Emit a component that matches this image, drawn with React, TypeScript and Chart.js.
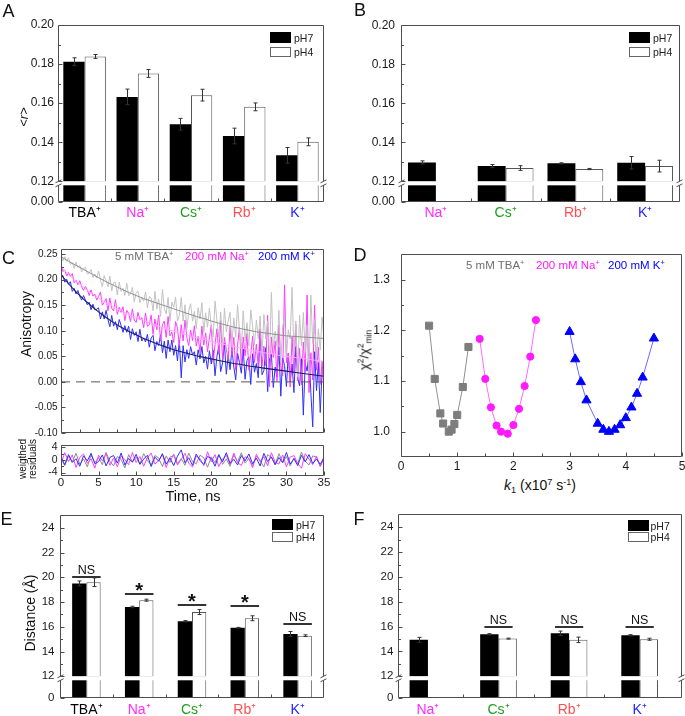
import React, { useEffect, useRef } from 'react';
import { Chart, registerables } from 'chart.js';

Chart.register(...registerables);

/* ============================ DATA ============================ */
const FONT = '"Liberation Sans", Arial, Helvetica, sans-serif';

// Panel A : <r> by cation (pH7 / pH4)
const A_CATS = ['TBA⁺', 'Na⁺', 'Cs⁺', 'Rb⁺', 'K⁺'];
const A_CAT_COLORS = ['#000000', '#ff2bff', '#1f9e1f', '#ff5050', '#2424ff'];
const A_PH7 = [0.1812, 0.1632, 0.1492, 0.1432, 0.1333];
const A_PH7_ERR = [0.002, 0.004, 0.003, 0.004, 0.004];
const A_PH4 = [0.1839, 0.1752, 0.1641, 0.1581, 0.1402];
const A_PH4_ERR = [0.001, 0.002, 0.003, 0.002, 0.002];

// Panel B : <r> for the second construct
const B_CATS = ['Na⁺', 'Cs⁺', 'Rb⁺', 'K⁺'];
const B_CAT_COLORS = ['#ff2bff', '#1f9e1f', '#ff5050', '#2424ff'];
const B_PH7 = [0.1297, 0.1278, 0.1292, 0.1295];
const B_PH7_ERR = [0.0008, 0.0008, 0.0003, 0.0032];
const B_PH4 = [null, 0.1268, 0.1263, 0.1278];
const B_PH4_ERR = [0, 0.0012, 0.0003, 0.003];

const R_TICKS = [0.12, 0.14, 0.16, 0.18, 0.2];
const R_LOW_TICKS = [0];
const R_BREAK = 0.12;
const R_MAX = 0.2;

// Panel E : distance (Å)
const E_CATS = ['TBA⁺', 'Na⁺', 'Cs⁺', 'Rb⁺', 'K⁺'];
const E_CAT_COLORS = ['#000000', '#ff2bff', '#1f9e1f', '#ff5050', '#2424ff'];
const E_PH7 = [19.5, 17.6, 16.45, 15.92, 15.42];
const E_PH7_ERR = [0.2, 0.06, 0.05, 0.03, 0.2];
const E_PH4 = [19.6, 18.15, 17.19, 16.69, 15.28];
const E_PH4_ERR = [0.35, 0.08, 0.2, 0.2, 0.07];
const E_SIG = ['NS', '*', '*', '*', 'NS'];
const E_SIG_Y = [20.05, 18.64, 17.76, 17.68, 16.19];

// Panel F : distance (Å), second construct
const F_CATS = ['Na⁺', 'Cs⁺', 'Rb⁺', 'K⁺'];
const F_CAT_COLORS = ['#ff2bff', '#1f9e1f', '#ff5050', '#2424ff'];
const F_PH7 = [14.93, 15.38, 15.46, 15.3];
const F_PH7_ERR = [0.2, 0.05, 0.18, 0.05];
const F_PH4 = [null, 15.03, 14.93, 14.98];
const F_PH4_ERR = [0, 0.04, 0.22, 0.08];
const F_SIG = [null, 'NS', 'NS', 'NS'];
const F_SIG_Y = [null, 15.98, 15.98, 15.98];

const DIST_TICKS = [12, 14, 16, 18, 20, 22, 24];
const DIST_LOW_TICKS = [0];
const DIST_BREAK = 12;
const DIST_MAX = 25;

// Panel C : anisotropy decays (sampled every 0.25 ns, 0..35 ns)
const C_T_STEP = 0.25;
const C_T_MAX = 35;
const C_TIMES = Array.from({ length: C_T_MAX / C_T_STEP + 1 }, (_, i) => i * C_T_STEP);
const TR_TBA = [
  0.247, 0.237, 0.245, 0.236, 0.243, 0.230, 0.233, 0.222, 0.234, 0.224,
  0.228, 0.215, 0.222, 0.224, 0.211, 0.213, 0.220, 0.204, 0.211, 0.203,
  0.217, 0.199, 0.186, 0.208, 0.198, 0.186, 0.207, 0.178, 0.194, 0.195,
  0.170, 0.195, 0.177, 0.183, 0.169, 0.193, 0.169, 0.172, 0.185, 0.156,
  0.175, 0.177, 0.155, 0.166, 0.158, 0.176, 0.145, 0.167, 0.164, 0.139,
  0.177, 0.142, 0.162, 0.128, 0.181, 0.143, 0.133, 0.165, 0.119, 0.156,
  0.146, 0.166, 0.119, 0.130, 0.165, 0.119, 0.151, 0.104, 0.139, 0.153,
  0.119, 0.138, 0.104, 0.145, 0.123, 0.155, 0.097, 0.135, 0.107, 0.144,
  0.110, 0.087, 0.158, 0.121, 0.088, 0.137, 0.068, 0.144, 0.098, 0.119,
  0.136, 0.072, 0.125, 0.088, 0.151, 0.100, 0.064, 0.139, 0.080, 0.116,
  0.070, 0.141, 0.108, 0.072, 0.121, 0.084, 0.129, 0.052, 0.132, 0.084,
  0.119, 0.047, 0.175, 0.064, 0.099, 0.069, 0.140, 0.038, 0.109, 0.127,
  0.048, 0.102, 0.084, 0.185, 0.053, 0.119, 0.010, 0.130, 0.070, 0.136,
  0.058, 0.111, 0.015, 0.170, 0.075, 0.122, 0.038, 0.104, 0.062, 0.127,
  0.085,
];
const TR_NA = [
  0.231, 0.216, 0.219, 0.207, 0.214, 0.206, 0.212, 0.194, 0.199, 0.190,
  0.198, 0.186, 0.179, 0.187, 0.180, 0.169, 0.180, 0.168, 0.172, 0.160,
  0.167, 0.176, 0.150, 0.156, 0.163, 0.139, 0.164, 0.144, 0.139, 0.161,
  0.132, 0.146, 0.136, 0.147, 0.120, 0.140, 0.134, 0.118, 0.143, 0.121,
  0.116, 0.136, 0.121, 0.126, 0.106, 0.135, 0.109, 0.112, 0.131, 0.093,
  0.123, 0.102, 0.131, 0.080, 0.112, 0.119, 0.087, 0.128, 0.090, 0.098,
  0.077, 0.118, 0.105, 0.071, 0.112, 0.080, 0.121, 0.086, 0.071, 0.101,
  0.081, 0.110, 0.070, 0.089, 0.057, 0.109, 0.072, 0.096, 0.059, 0.086,
  0.111, 0.038, 0.073, 0.104, 0.054, 0.120, 0.043, 0.087, 0.063, 0.044,
  0.107, 0.052, 0.087, 0.023, 0.072, 0.107, 0.030, 0.088, 0.051, 0.095,
  0.023, 0.053, 0.089, 0.038, 0.074, 0.028, 0.104, 0.031, 0.070, 0.031,
  0.130, -0.010, 0.088, 0.048, 0.080, 0.001, 0.111, 0.032, 0.012, 0.190,
  0.037, 0.056, -0.010, 0.088, 0.016, 0.113, 0.002, 0.066, -0.006, 0.078,
  0.019, 0.170, -0.021, 0.057, 0.004, 0.150, 0.023, 0.068, -0.005, 0.041,
  -0.020,
];
const TR_K = [
  0.207, 0.208, 0.195, 0.201, 0.191, 0.196, 0.177, 0.183, 0.172, 0.179,
  0.167, 0.160, 0.169, 0.160, 0.151, 0.156, 0.141, 0.152, 0.141, 0.142,
  0.145, 0.123, 0.137, 0.123, 0.140, 0.122, 0.108, 0.130, 0.109, 0.118,
  0.102, 0.122, 0.110, 0.097, 0.110, 0.097, 0.109, 0.083, 0.104, 0.091,
  0.098, 0.079, 0.103, 0.080, 0.086, 0.078, 0.093, 0.068, 0.086, 0.091,
  0.061, 0.079, 0.071, 0.092, 0.057, 0.080, 0.046, 0.082, 0.059, 0.082,
  0.052, 0.071, 0.041, 0.082, 0.008, 0.071, 0.039, 0.063, 0.046, 0.069,
  0.053, 0.059, 0.033, 0.063, 0.045, 0.069, 0.037, 0.050, 0.025, 0.061,
  0.035, 0.062, 0.012, 0.050, 0.070, 0.020, 0.037, 0.075, 0.015, 0.052,
  0.024, 0.065, 0.029, 0.004, 0.056, 0.038, 0.017, 0.065, 0.005, 0.042,
  0.049, -0.005, 0.055, 0.019, 0.036, 0.008, 0.100, 0.014, 0.022, 0.067,
  -0.019, 0.046, 0.055, -0.011, 0.029, 0.009, 0.068, -0.028, 0.047, 0.032,
  -0.009, 0.056, 0.000, 0.035, -0.021, 0.069, 0.008, -0.008, 0.047, -0.065,
  0.036, 0.021, 0.055, -0.021, -0.088, 0.059, -0.017, 0.038, -0.060, 0.022,
  0.046,
];
// fitted curves (every 1 ns)
const FIT_T = Array.from({ length: 36 }, (_, i) => i);
const FIT_TBA = [0.245, 0.236, 0.228, 0.220, 0.212, 0.204, 0.196, 0.189, 0.182, 0.175, 0.169, 0.163, 0.158, 0.153, 0.148, 0.143, 0.138, 0.133, 0.128, 0.124, 0.119, 0.115, 0.111, 0.107, 0.104, 0.101, 0.098, 0.096, 0.094, 0.092, 0.090, 0.089, 0.088, 0.087, 0.086, 0.085];
const FIT_NA = [0.225, 0.210, 0.197, 0.185, 0.174, 0.164, 0.155, 0.147, 0.139, 0.132, 0.126, 0.120, 0.114, 0.109, 0.104, 0.099, 0.095, 0.091, 0.087, 0.083, 0.079, 0.076, 0.072, 0.069, 0.066, 0.063, 0.060, 0.057, 0.055, 0.052, 0.050, 0.048, 0.046, 0.044, 0.042, 0.040];
const FIT_K = [0.210, 0.192, 0.176, 0.162, 0.149, 0.137, 0.126, 0.116, 0.107, 0.099, 0.092, 0.085, 0.079, 0.073, 0.068, 0.063, 0.059, 0.055, 0.051, 0.048, 0.045, 0.042, 0.039, 0.036, 0.034, 0.031, 0.029, 0.027, 0.025, 0.023, 0.021, 0.019, 0.017, 0.015, 0.013, 0.011];
const C_Y_TICKS = [-0.1, -0.05, 0, 0.05, 0.1, 0.15, 0.2, 0.25];
const C_Y_MIN = -0.1;
const C_Y_MAX = 0.26;
const C_X_TICKS = [0, 5, 10, 15, 20, 25, 30, 35];

// weighted residuals (every 0.5 ns)
const RES_T_STEP = 0.5;
const RES_TIMES = Array.from({ length: C_T_MAX / RES_T_STEP + 1 }, (_, i) => i * RES_T_STEP);
const RES_TBA = [
  0.5, -1.8, 1.2, -0.6, 2.1, -1.4, 0.3, -2.2, 1.6, -0.9,
  0.8, -1.5, 2.4, -0.4, -1.9, 1.1, 0.2, -2.5, 1.7, -0.7,
  0.9, -1.3, 2.0, -0.2, -1.6, 1.4, 0.6, -2.1, 1.3, -0.8,
  1.9, -1.1, 0.4, -1.7, 2.2, -0.5, -1.2, 1.5, 0.7, -2.3,
  1.0, -0.9, 1.8, -1.4, 0.3, -2.0, 1.6, -0.6, 2.3, -1.0,
  0.5, -1.8, 1.2, -0.3, -2.2, 1.7, 0.8, -1.5, 2.0, -0.7,
  1.1, -1.9, 0.6, -1.2, 2.5, -0.4, -1.6, 1.3, 0.9, -2.1,
  0.4,
];
const RES_NA = [
  -1.2, 2.3, -0.5, 1.6, -2.4, 0.8, 1.9, -1.1, 0.4, -2.6,
  1.5, -0.3, 2.0, -1.7, 0.6, -2.2, 1.3, 0.1, -1.5, 2.4,
  -0.8, 1.1, -2.0, 0.7, 2.2, -1.3, -0.2, 1.8, -2.4, 0.9,
  1.4, -1.6, 0.2, 2.1, -1.0, -2.3, 1.2, 0.5, -1.8, 2.6,
  -0.6, 1.7, -2.1, 0.3, 1.5, -1.4, 2.2, -0.9, -1.7, 1.0,
  0.6, -2.5, 1.8, -0.4, 1.1, -1.9, 2.3, -0.7, -1.3, 1.6,
  -2.2, 0.9, 1.4, -1.1, -2.6, 2.0, 0.3, -1.5, 1.2, -2.0,
  0.7,
];
const RES_K = [
  0.9, -1.5, 1.7, -0.8, 0.4, -2.0, 1.3, -0.3, 2.1, -1.2,
  -0.5, 1.6, -1.9, 0.8, 1.4, -1.0, 2.2, -1.6, 0.5, -0.7,
  1.8, -1.4, 0.3, 1.5, -2.1, 0.9, -0.4, 2.0, -1.3, 0.6,
  -1.8, 1.2, 3.2, -0.9, 0.7, -1.7, 1.9, -0.2, -1.4, 1.1,
  0.5, -2.0, 1.6, -0.6, 2.3, -1.1, 0.2, -1.6, 1.4, -0.3,
  1.9, -1.2, 0.6, -1.9, 2.1, -0.5, 1.0, -1.5, 0.8, -0.9,
  2.4, -1.3, 0.4, -1.8, 1.5, -0.6, 1.7, -1.1, 0.3, -1.4,
  0.8,
];
const RES_TICKS = [-4, 0, 4];
const RES_MIN = -5;
const RES_MAX = 4.5;

// Panel D : chi2 / chi2min vs k1
const D_TBA_K1 = [0.5, 0.6, 0.7, 0.75, 0.85, 0.9, 0.95, 1.0, 1.1, 1.2];
const D_TBA_CHI = [1.209, 1.104, 1.036, 1.016, 1.0, 1.004, 1.015, 1.033, 1.088, 1.167];
const D_NA_K1 = [1.4, 1.5, 1.6, 1.7, 1.78, 1.9, 2.0, 2.1, 2.2, 2.3, 2.4];
const D_NA_CHI = [1.183, 1.104, 1.048, 1.012, 1.0, 0.996, 1.013, 1.045, 1.09, 1.148, 1.22];
const D_K_K1 = [3.0, 3.1, 3.2, 3.3, 3.5, 3.6, 3.7, 3.8, 3.9, 4.0, 4.1, 4.2, 4.3, 4.5];
const D_K_CHI = [1.197, 1.143, 1.098, 1.062, 1.016, 1.004, 1.0, 1.004, 1.013, 1.027, 1.048, 1.075, 1.107, 1.184];
const D_X_TICKS = [0, 1, 2, 3, 4, 5];
const D_Y_TICKS = [1.0, 1.1, 1.2, 1.3];

/* ============================ STYLE / LAYOUT ============================ */
const FRAME_COLOR = '#4d4d4d';
const ERR_COLOR = '#333333';
const TICK_COLOR = '#1a1a1a';

type Rect = { l: number; t: number; r: number; b: number };

const A_CANVAS: Rect = { l: 0, t: 12, r: 338, b: 230 };
const A_PLOT: Rect = { l: 58, t: 25, r: 324, b: 202 };
const B_CANVAS: Rect = { l: 342, t: 12, r: 685, b: 230 };
const B_PLOT: Rect = { l: 401, t: 25, r: 680, b: 202 };
const C_CANVAS: Rect = { l: 0, t: 238, r: 338, b: 448 };
const C_PLOT: Rect = { l: 61, t: 249, r: 324, b: 433 };
const CR_CANVAS: Rect = { l: 0, t: 436, r: 338, b: 496 };
const CR_PLOT: Rect = { l: 61, t: 443.3, r: 324, b: 475.7 };
const D_CANVAS: Rect = { l: 342, t: 236, r: 695, b: 476 };
const D_PLOT: Rect = { l: 401, t: 247.3, r: 682, b: 457 };
const E_CANVAS: Rect = { l: 0, t: 503, r: 338, b: 716 };
const E_PLOT: Rect = { l: 60, t: 513, r: 324, b: 698 };
const F_CANVAS: Rect = { l: 342, t: 503, r: 685, b: 716 };
const F_PLOT: Rect = { l: 398.3, t: 513, r: 682, b: 698 };

function geom(c: Rect, p: Rect) {
  return { padTop: p.t - c.t, padRight: c.r - p.r, yW: p.l - c.l, xH: c.b - p.b };
}

function baseOptions(g: any) {
  return {
    responsive: false,
    maintainAspectRatio: false,
    animation: false,
    events: [],
    layout: { padding: { left: 0, top: g.padTop, right: g.padRight, bottom: 0 } },
  };
}

/* ============================ PLUGIN (frame, ticks, error bars, break) ============================ */
const decorPlugin: any = {
  id: 'decor',
  afterDatasetsDraw(chart: any) {
    const ctx = chart.ctx;
    chart.data.datasets.forEach((ds: any, di: number) => {
      const errs = ds.errors;
      if (!errs) return;
      const meta = chart.getDatasetMeta(di);
      const ys = chart.scales[meta.yAxisID];
      meta.data.forEach((el: any, j: number) => {
        const pt = ds.data[j];
        const v = pt ? pt.y : null;
        const e = errs[j];
        if (v == null || !e) return;
        const x = Math.round(el.x) + 0.5;
        const y1 = ys.getPixelForValue(v + e);
        const y2 = ys.getPixelForValue(v - e);
        ctx.save();
        ctx.strokeStyle = ERR_COLOR;
        ctx.lineWidth = 1;
        ctx.beginPath();
        ctx.moveTo(x, y1); ctx.lineTo(x, y2);
        ctx.moveTo(x - 2, y1); ctx.lineTo(x + 2, y1);
        ctx.moveTo(x - 2, y2); ctx.lineTo(x + 2, y2);
        ctx.stroke();
        ctx.restore();
      });
    });
  },
  afterDraw(chart: any, _args: any, o: any) {
    const ctx = chart.ctx;
    const a = chart.chartArea;
    const L = Math.floor(a.left) + 0.5;
    const R = Math.ceil(a.right) - 0.5;
    const T = Math.floor(a.top) + 0.5;
    const B = Math.ceil(a.bottom) - 0.5;
    ctx.save();
    let g0: number | null = null;
    let g1: number | null = null;
    if (o.breakScale) {
      const up = chart.scales[o.breakScale];
      g0 = up.bottom;
      g1 = up.bottom + (o.gap || 4);
      ctx.fillStyle = '#ffffff';
      ctx.fillRect(L - 2, g0, R - L + 4, g1 - g0);
    }
    ctx.strokeStyle = FRAME_COLOR;
    ctx.lineWidth = 1;
    ctx.beginPath();
    ctx.moveTo(L, T); ctx.lineTo(R, T);
    ctx.moveTo(L, B); ctx.lineTo(R, B);
    if (g0 != null && g1 != null) {
      ctx.moveTo(L, T); ctx.lineTo(L, g0); ctx.moveTo(L, g1); ctx.lineTo(L, B);
      ctx.moveTo(R, T); ctx.lineTo(R, g0); ctx.moveTo(R, g1); ctx.lineTo(R, B);
    } else {
      ctx.moveTo(L, T); ctx.lineTo(L, B);
      ctx.moveTo(R, T); ctx.lineTo(R, B);
    }
    (o.yScales || []).forEach((id: string) => {
      const s = chart.scales[id];
      const vals = s.ticks.map((t: any) => t.value);
      vals.forEach((v: number) => {
        const p = Math.round(s.getPixelForValue(v)) + 0.5;
        ctx.moveTo(L, p); ctx.lineTo(L + 4, p);
      });
      for (let i = 0; i < vals.length - 1; i++) {
        const p = Math.round(s.getPixelForValue((vals[i] + vals[i + 1]) / 2)) + 0.5;
        ctx.moveTo(L, p); ctx.lineTo(L + 2.5, p);
      }
    });
    const xs = chart.scales.x;
    const xv = xs.ticks.map((t: any) => t.value);
    if (o.xMajor) {
      xv.forEach((v: number) => {
        const p = Math.round(xs.getPixelForValue(v)) + 0.5;
        ctx.moveTo(p, B); ctx.lineTo(p, B - 4);
      });
    }
    if (o.xMinor) {
      for (let i = 0; i < xv.length - 1; i++) {
        const p = Math.round(xs.getPixelForValue((xv[i] + xv[i + 1]) / 2)) + 0.5;
        ctx.moveTo(p, B); ctx.lineTo(p, B - 3);
      }
    }
    ctx.stroke();
    if (g0 != null && g1 != null) {
      ctx.beginPath();
      [L, R].forEach((x) => [g0 as number, g1 as number].forEach((y) => {
        ctx.moveTo(x - 3, y + 1.5); ctx.lineTo(x + 3, y - 1.5);
      }));
      ctx.stroke();
    }
    if (o.sig) {
      const ys = chart.scales[o.sig.scale];
      o.sig.labels.forEach((lab: string | null, i: number) => {
        if (!lab) return;
        const y = Math.round(ys.getPixelForValue(o.sig.ys[i]));
        const x0 = xs.getPixelForValue(i - o.sig.half);
        const x1 = xs.getPixelForValue(i + o.sig.half);
        ctx.strokeStyle = '#333333';
        ctx.lineWidth = 2;
        ctx.beginPath(); ctx.moveTo(x0, y); ctx.lineTo(x1, y); ctx.stroke();
        ctx.fillStyle = '#111111';
        ctx.textAlign = 'center';
        ctx.textBaseline = 'alphabetic';
        if (lab === '*') {
          ctx.font = `bold 20px ${FONT}`;
          ctx.fillText(lab, (x0 + x1) / 2, y + 3);
        } else {
          ctx.font = `12.5px ${FONT}`;
          ctx.fillText(lab, (x0 + x1) / 2, y - 3.5);
        }
      });
    }
    ctx.restore();
  },
};

/* ============================ CHART BUILDERS ============================ */
function barConfig(p: any) {
  const g = geom(p.canvas, p.plot);
  const lowerH = p.plot.b - p.plot.t - p.upperPx;
  const pts = (vals: (number | null)[], clip: boolean) =>
    vals.map((v, i) => ({ x: i, y: v == null ? null : clip ? Math.min(v, p.brk) : v }));
  const common = { categoryPercentage: p.catPct, barPercentage: 1 };
  const yCommon = {
    type: 'linear',
    position: 'left',
    stack: 'broken',
    stacked: false,
    bounds: 'data',
    grid: { display: false, drawTicks: false },
    border: { display: false },
    afterFit: (s: any) => { s.width = g.yW; },
  };
  const yTickOpts = {
    autoSkip: false,
    padding: p.yPad,
    color: TICK_COLOR,
    font: { family: FONT, size: p.yFont },
    callback: (v: any) => Number(v).toFixed(p.dec),
  };
  return {
    type: 'bar',
    data: {
      datasets: [
        { label: 'pH7', data: pts(p.ph7, false), yAxisID: 'y', stack: 'pH7', base: p.brk, backgroundColor: '#000000', borderWidth: 0, errors: p.ph7Err, ...common },
        { label: 'pH4', data: pts(p.ph4, false), yAxisID: 'y', stack: 'pH4', base: p.brk, backgroundColor: '#ffffff', borderColor: '#555555', borderWidth: 1, errors: p.ph4Err, ...common },
        { label: 'pH7 (below break)', data: pts(p.ph7, true), yAxisID: 'yLow', stack: 'pH7', backgroundColor: '#000000', borderWidth: 0, ...common },
        { label: 'pH4 (below break)', data: pts(p.ph4, true), yAxisID: 'yLow', stack: 'pH4', backgroundColor: '#ffffff', borderColor: '#555555', borderWidth: 1, ...common },
      ],
    },
    options: {
      ...baseOptions(g),
      scales: {
        x: {
          type: 'linear',
          min: p.xMin,
          max: p.xMax,
          bounds: 'data',
          offset: false,
          grid: { display: false, drawTicks: false },
          border: { display: false },
          afterBuildTicks: (s: any) => { s.ticks = p.cats.map((_: any, i: number) => ({ value: i })); },
          afterFit: (s: any) => { s.height = g.xH; },
          ticks: {
            autoSkip: false,
            maxRotation: 0,
            padding: p.xPad,
            font: { family: FONT, size: 14 },
            color: (c: any) => p.catColors[c.index] || '#000000',
            callback: (v: any) => p.cats[v] ?? '',
          },
        },
        y: {
          ...yCommon,
          stackWeight: p.upperPx,
          weight: 2,
          min: p.brk,
          max: p.max,
          afterBuildTicks: (s: any) => { s.ticks = p.yTicks.map((v: number) => ({ value: v })); },
          ticks: yTickOpts,
        },
        yLow: {
          ...yCommon,
          stackWeight: lowerH,
          weight: 1,
          min: 0,
          max: p.brk,
          afterBuildTicks: (s: any) => { s.ticks = p.lowTicks.map((v: number) => ({ value: v })); },
          ticks: yTickOpts,
        },
      },
      plugins: {
        legend: { display: false },
        tooltip: { enabled: false },
        decor: { yScales: ['y', 'yLow'], breakScale: 'y', gap: 4, xMinor: true, sig: p.sig },
      },
    },
    plugins: [decorPlugin],
  };
}

function lineAxes(g: any, x: any, y: any) {
  return {
    x: {
      type: 'linear',
      min: x.min,
      max: x.max,
      bounds: 'data',
      grid: { display: false, drawTicks: false },
      border: { display: false },
      afterBuildTicks: (s: any) => { s.ticks = x.ticks.map((v: number) => ({ value: v })); },
      afterFit: (s: any) => { s.height = g.xH; },
      ticks: {
        display: x.show,
        autoSkip: false,
        maxRotation: 0,
        padding: x.pad,
        color: TICK_COLOR,
        font: { family: FONT, size: x.font },
        callback: (v: any) => String(v),
      },
    },
    y: {
      type: 'linear',
      min: y.min,
      max: y.max,
      bounds: 'data',
      grid: { display: false, drawTicks: false },
      border: { display: false },
      afterBuildTicks: (s: any) => { s.ticks = y.ticks.map((v: number) => ({ value: v })); },
      afterFit: (s: any) => { s.width = g.yW; },
      ticks: {
        autoSkip: false,
        padding: y.pad,
        color: TICK_COLOR,
        font: { family: FONT, size: y.font },
        callback: (v: any) => Number(v).toFixed(y.dec),
      },
    },
  };
}

function traceConfig() {
  const g = geom(C_CANVAS, C_PLOT);
  const ser = (ys: number[]) => C_TIMES.map((t, i) => ({ x: t, y: ys[i] }));
  const fit = (ys: number[]) => FIT_T.map((t, i) => ({ x: t, y: ys[i] }));
  const ln = { pointRadius: 0, tension: 0, fill: false };
  return {
    type: 'line',
    data: {
      datasets: [
        { label: 'zero', data: [{ x: 0, y: 0 }, { x: C_T_MAX, y: 0 }], borderColor: '#555555', borderDash: [9, 6], borderWidth: 1, order: 0, ...ln },
        { label: 'fit TBA', data: fit(FIT_TBA), borderColor: '#8f8f8f', borderWidth: 1, order: 1, ...ln },
        { label: 'fit Na', data: fit(FIT_NA), borderColor: '#ffa6ff', borderWidth: 1, order: 2, ...ln },
        { label: 'fit K', data: fit(FIT_K), borderColor: '#1a1a66', borderWidth: 1.1, order: 3, ...ln },
        { label: '5 mM TBA+', data: ser(TR_TBA), borderColor: '#c2c2c2', borderWidth: 1, order: 4, ...ln },
        { label: '200 mM Na+', data: ser(TR_NA), borderColor: '#ff3dff', borderWidth: 1, order: 5, ...ln },
        { label: '200 mM K+', data: ser(TR_K), borderColor: '#2e2eff', borderWidth: 1, order: 6, ...ln },
      ],
    },
    options: {
      ...baseOptions(g),
      scales: lineAxes(g,
        { min: 0, max: C_T_MAX, ticks: C_X_TICKS, show: false, pad: 0, font: 11 },
        { min: C_Y_MIN, max: C_Y_MAX, ticks: C_Y_TICKS, pad: 3.5, font: 10, dec: 2 }),
      plugins: {
        legend: { display: false },
        tooltip: { enabled: false },
        decor: { yScales: ['y'], xMajor: true, xMinor: true },
      },
    },
    plugins: [decorPlugin],
  };
}

function residConfig() {
  const g = geom(CR_CANVAS, CR_PLOT);
  const ser = (ys: number[]) => RES_TIMES.map((t, i) => ({ x: t, y: ys[i] }));
  const ln = { pointRadius: 0, tension: 0, fill: false, borderWidth: 1 };
  return {
    type: 'line',
    data: {
      datasets: [
        { label: 'K', data: ser(RES_K), borderColor: '#2f2fff', order: 0, ...ln },
        { label: 'Na', data: ser(RES_NA), borderColor: '#ff3dff', order: 1, ...ln },
        { label: 'TBA', data: ser(RES_TBA), borderColor: '#8c8c8c', order: 2, ...ln },
      ],
    },
    options: {
      ...baseOptions(g),
      scales: lineAxes(g,
        { min: 0, max: C_T_MAX, ticks: C_X_TICKS, show: true, pad: 0, font: 11.5 },
        { min: RES_MIN, max: RES_MAX, ticks: RES_TICKS, pad: 3.5, font: 10.5, dec: 0 }),
      plugins: {
        legend: { display: false },
        tooltip: { enabled: false },
        decor: { yScales: ['y'], xMajor: true, xMinor: true },
      },
    },
    plugins: [decorPlugin],
  };
}

function chiConfig() {
  const g = geom(D_CANVAS, D_PLOT);
  const pts = (xs: number[], ys: number[]) => xs.map((x, i) => ({ x, y: ys[i] }));
  const base = { showLine: true, tension: 0, borderWidth: 1, fill: false, pointBorderWidth: 1 };
  return {
    type: 'line',
    data: {
      datasets: [
        { label: '5 mM TBA+', data: pts(D_TBA_K1, D_TBA_CHI), borderColor: '#8f8f8f', pointStyle: 'rect', pointRadius: 5, pointBackgroundColor: '#7d7d7d', pointBorderColor: '#7d7d7d', ...base },
        { label: '200 mM Na+', data: pts(D_NA_K1, D_NA_CHI), borderColor: '#ff6bff', pointStyle: 'circle', pointRadius: 3.6, pointBackgroundColor: '#ff1aff', pointBorderColor: '#ff1aff', ...base },
        { label: '200 mM K+', data: pts(D_K_K1, D_K_CHI), borderColor: '#6b6bff', pointStyle: 'triangle', pointRadius: 5.3, pointBackgroundColor: '#0000ff', pointBorderColor: '#0000ff', ...base },
      ],
    },
    options: {
      ...baseOptions(g),
      scales: lineAxes(g,
        { min: 0, max: 5, ticks: D_X_TICKS, show: true, pad: 2.5, font: 12 },
        { min: 0.95, max: 1.35, ticks: D_Y_TICKS, pad: 11, font: 12, dec: 1 }),
      plugins: {
        legend: { display: false },
        tooltip: { enabled: false },
        decor: { yScales: ['y'], xMajor: true, xMinor: true },
      },
    },
    plugins: [decorPlugin],
  };
}

const PANEL_A = {
  canvas: A_CANVAS, plot: A_PLOT, cats: A_CATS, catColors: A_CAT_COLORS,
  ph7: A_PH7, ph7Err: A_PH7_ERR, ph4: A_PH4, ph4Err: A_PH4_ERR,
  yTicks: R_TICKS, lowTicks: R_LOW_TICKS, brk: R_BREAK, max: R_MAX, dec: 2,
  upperPx: 156.3, xMin: -0.5, xMax: 4.5, catPct: 0.8, yPad: 4, yFont: 12, xPad: 3,
};
const PANEL_B = {
  canvas: B_CANVAS, plot: B_PLOT, cats: B_CATS, catColors: B_CAT_COLORS,
  ph7: B_PH7, ph7Err: B_PH7_ERR, ph4: B_PH4, ph4Err: B_PH4_ERR,
  yTicks: R_TICKS, lowTicks: R_LOW_TICKS, brk: R_BREAK, max: R_MAX, dec: 2,
  upperPx: 156.3, xMin: -0.5, xMax: 3.5, catPct: 0.8, yPad: 6, yFont: 12, xPad: 3,
};
const PANEL_E = {
  canvas: E_CANVAS, plot: E_PLOT, cats: E_CATS, catColors: E_CAT_COLORS,
  ph7: E_PH7, ph7Err: E_PH7_ERR, ph4: E_PH4, ph4Err: E_PH4_ERR,
  yTicks: DIST_TICKS, lowTicks: DIST_LOW_TICKS, brk: DIST_BREAK, max: DIST_MAX, dec: 0,
  upperPx: 163, xMin: -0.5, xMax: 4.5, catPct: 0.54, yPad: 5.5, yFont: 11.5, xPad: 4,
  sig: { labels: E_SIG, ys: E_SIG_Y, half: 0.27, scale: 'y' },
};
const PANEL_F = {
  canvas: F_CANVAS, plot: F_PLOT, cats: F_CATS, catColors: F_CAT_COLORS,
  ph7: F_PH7, ph7Err: F_PH7_ERR, ph4: F_PH4, ph4Err: F_PH4_ERR,
  yTicks: DIST_TICKS, lowTicks: DIST_LOW_TICKS, brk: DIST_BREAK, max: DIST_MAX, dec: 0,
  upperPx: 163, xMin: -0.42, xMax: 3.6, catPct: 0.52, yPad: 5, yFont: 11.5, xPad: 4,
  sig: { labels: F_SIG, ys: F_SIG_Y, half: 0.2, scale: 'y' },
};

/* ============================ COMPONENTS ============================ */
function ChartCanvas({ box, make }: { box: Rect; make: () => any }) {
  const ref = useRef<HTMLCanvasElement>(null);
  useEffect(() => {
    const chart = new Chart(ref.current as HTMLCanvasElement, make());
    return () => chart.destroy();
  }, []);
  const w = box.r - box.l;
  const h = box.b - box.t;
  return (
    <canvas
      ref={ref}
      width={w}
      height={h}
      style={{ position: 'absolute', left: box.l, top: box.t, width: w, height: h }}
    />
  );
}

function Txt({ x, y, s, c = '#111111', align = 'left', rot = false, children, style = {} }: any) {
  const tx = align === 'center' ? '-50%' : align === 'right' ? '-100%' : '0';
  const transform = rot ? 'translate(-50%,-50%) rotate(-90deg)' : `translate(${tx},-50%)`;
  return (
    <div
      style={{
        position: 'absolute', left: x, top: y, transform, fontSize: s, lineHeight: 1,
        whiteSpace: 'nowrap', color: c, fontFamily: FONT, ...style,
      }}
    >
      {children}
    </div>
  );
}

const Sup = ({ children }: any) => (
  <span style={{ fontSize: '65%', verticalAlign: '0.55em', lineHeight: 0 }}>{children}</span>
);
const Sub = ({ children }: any) => (
  <span style={{ fontSize: '65%', verticalAlign: '-0.3em', lineHeight: 0 }}>{children}</span>
);

function BarLegend({ x, y1, y2, tx }: any) {
  return (
    <>
      <div style={{ position: 'absolute', left: x, top: y1, width: 21, height: 10.5, background: '#000' }} />
      <div style={{ position: 'absolute', left: x, top: y2, width: 21, height: 10.5, background: '#fff', border: '1px solid #666', boxSizing: 'border-box' }} />
      <Txt x={tx} y={y1 + 5.5} s={10.5} c="#222">pH7</Txt>
      <Txt x={tx} y={y2 + 5.5} s={10.5} c="#222">pH4</Txt>
    </>
  );
}

function SeriesLegend({ y, xs }: any) {
  return (
    <>
      <Txt x={xs[0]} y={y} s={11.5} c="#6e6e6e">5 mM TBA<Sup>+</Sup></Txt>
      <Txt x={xs[1]} y={y} s={11.5} c="#ff1aff">200 mM Na<Sup>+</Sup></Txt>
      <Txt x={xs[2]} y={y} s={11.5} c="#0000ff">200 mM K<Sup>+</Sup></Txt>
    </>
  );
}

export default function App() {
  return (
    <div style={{ position: 'absolute', left: 0, top: 0, width: 685, height: 716, overflow: 'hidden', background: '#ffffff', fontFamily: FONT }}>
      <ChartCanvas box={A_CANVAS} make={() => barConfig(PANEL_A)} />
      <ChartCanvas box={B_CANVAS} make={() => barConfig(PANEL_B)} />
      <ChartCanvas box={C_CANVAS} make={traceConfig} />
      <ChartCanvas box={CR_CANVAS} make={residConfig} />
      <ChartCanvas box={D_CANVAS} make={chiConfig} />
      <ChartCanvas box={E_CANVAS} make={() => barConfig(PANEL_E)} />
      <ChartCanvas box={F_CANVAS} make={() => barConfig(PANEL_F)} />

      {/* panel letters */}
      <Txt x={8.5} y={10.5} s={18} align="center">A</Txt>
      <Txt x={360} y={10} s={18} align="center">B</Txt>
      <Txt x={8.5} y={257.5} s={18} align="center">C</Txt>
      <Txt x={360} y={255} s={18} align="center">D</Txt>
      <Txt x={6.5} y={518.5} s={18} align="center">E</Txt>
      <Txt x={359} y={518.5} s={18} align="center">F</Txt>

      {/* axis titles */}
      <Txt x={23} y={117} s={13} rot>&lt;<i>r</i>&gt;</Txt>
      <Txt x={26} y={323.5} s={14} rot>Anisotropy</Txt>
      <Txt x={27.5} y={459} s={10} rot style={{ textAlign: 'center' }}>weigthed<br />residuals</Txt>
      <Txt x={193} y={495.5} s={14.5} align="center">Time, ns</Txt>
      <Txt x={364} y={350} s={13} rot>
        χ<Sup>2</Sup>/χ<Sup>2</Sup><Sub>min</Sub>
      </Txt>
      <Txt x={540} y={485} s={14} align="center">
        <i>k</i><Sub>1</Sub> (x10<Sup>7</Sup> s<Sup>-1</Sup>)
      </Txt>
      <Txt x={29.5} y={612.5} s={14} rot>Distance (Å)</Txt>

      {/* legends */}
      <BarLegend x={270} y1={32.3} y2={46.7} tx={294} />
      <BarLegend x={629.3} y1={32.3} y2={46.7} tx={653} />
      <BarLegend x={271.7} y1={519.3} y2={531.5} tx={296} />
      <BarLegend x={628.3} y1={520} y2={531.7} tx={650.5} />
      <SeriesLegend y={257} xs={[115, 185, 258]} />
      <SeriesLegend y={266} xs={[466, 536, 608]} />
    </div>
  );
}
